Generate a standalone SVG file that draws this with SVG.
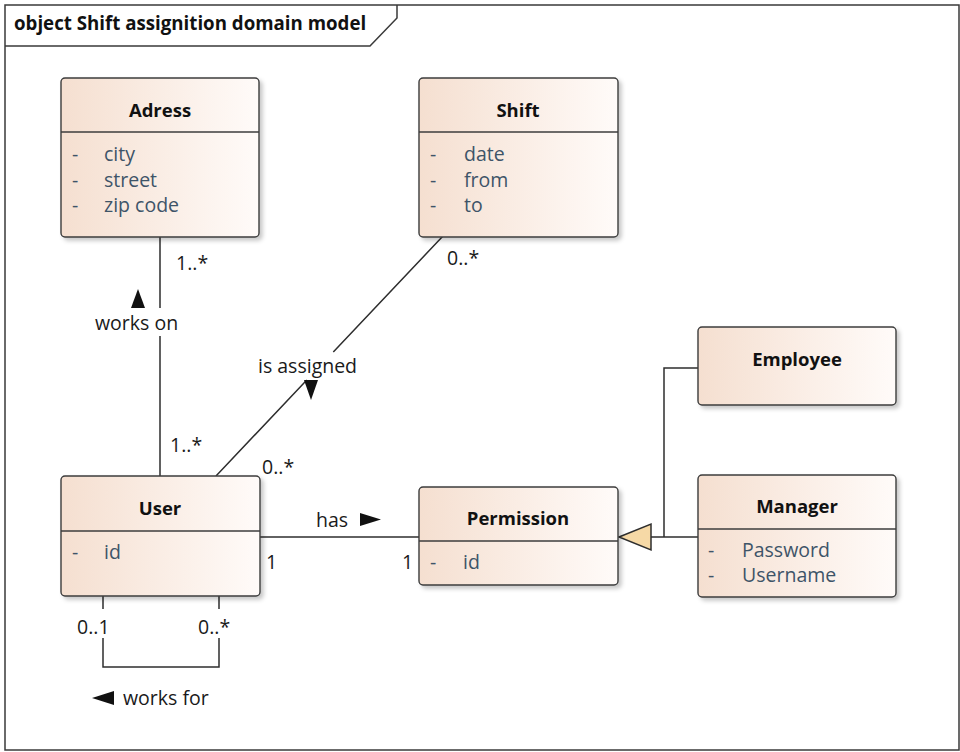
<svg xmlns="http://www.w3.org/2000/svg" width="960" height="752" viewBox="0 0 960 752">
  <style>
    .frame { fill: none; stroke: #3a3a3a; stroke-width: 1.5; }
    .box { fill: url(#nodeFill); stroke: #3c3c3c; stroke-width: 1.4; filter: url(#shadow); }
    .div { stroke: #3c3c3c; stroke-width: 1.4; }
    .title { font-family: "Open Sans", "Noto Sans", sans-serif; font-weight: bold; font-size: 18.5px; fill: #111; text-anchor: middle; }
    .attr { font-family: "Open Sans", "Noto Sans", sans-serif; font-size: 19.5px; fill: #3e5468; }
    .lbl { font-family: "Open Sans", "Noto Sans", sans-serif; font-size: 19.5px; fill: #1a1a1a; }
    .hdr { font-family: "Open Sans", "Noto Sans", sans-serif; font-weight: bold; font-size: 18.7px; fill: #111; }
    .conn { fill: none; stroke: #2e2e2e; stroke-width: 1.5; }
    .dir { fill: #111; }
  </style>
  <defs>
    <linearGradient id="nodeFill" x1="0" y1="0" x2="1" y2="0">
      <stop offset="0" stop-color="#f5dfd0"/>
      <stop offset="1" stop-color="#fffbf9"/>
    </linearGradient>
    <filter id="shadow" x="-10%" y="-10%" width="130%" height="130%">
      <feDropShadow dx="3" dy="3" stdDeviation="2" flood-color="#000" flood-opacity="0.22"/>
    </filter>
  </defs>

  <rect width="960" height="752" fill="#fff"/>

  <!-- diagram frame with name tab -->
  <g id="frame">
    <rect class="frame" x="5" y="5" width="954" height="745"/>
    <path class="frame" d="M5,46 H370 L397,18 V5"/>
    <text class="hdr" x="14" y="30">object Shift assignition domain model</text>
  </g>

  <!-- associations and generalization -->
  <g id="connectors">
    <!-- User - Adress : works on -->
    <path class="conn" d="M160,237 V308 M160,336 V476"/>
    <polygon class="dir" points="138,289 131,308 145,308"/>
    <text class="lbl" x="95" y="330">works on</text>
    <text class="lbl" x="176" y="270">1..*</text>
    <text class="lbl" x="170" y="452">1..*</text>

    <!-- User - Shift : is assigned -->
    <path class="conn" d="M216,476 L306.8,380 M333.3,352 L443,236"/>
    <polygon class="dir" points="304,380 318,380 311,400"/>
    <text class="lbl" x="258" y="373">is assigned</text>
    <text class="lbl" x="447" y="265">0..*</text>
    <text class="lbl" x="262" y="474">0..*</text>

    <!-- User - Permission : has -->
    <path class="conn" d="M260,537 H419"/>
    <polygon class="dir" points="360,513 381,519.5 360,526"/>
    <text class="lbl" x="316" y="527">has</text>
    <text class="lbl" x="266" y="569">1</text>
    <text class="lbl" x="402" y="569">1</text>

    <!-- User self association : works for -->
    <path class="conn" d="M103,596 V609 M103,638 V667 H219 V638 M219,609 V596"/>
    <text class="lbl" x="77" y="634">0..1</text>
    <text class="lbl" x="198" y="634">0..*</text>
    <polygon class="dir" points="92,698 114,691 114,705"/>
    <text class="lbl" x="123" y="705">works for</text>

    <!-- Employee, Manager generalize Permission -->
    <path class="conn" d="M698,368 H664 V537 M698,537 H651"/>
    <polygon points="619,537 651,524 651,550" fill="#f6d9a6" stroke="#2e2e2e" stroke-width="1.5"/>
  </g>

  <g id="adress">
    <rect class="box" x="61" y="78" width="198" height="159" rx="4"/>
    <line class="div" x1="61" y1="132" x2="259" y2="132"/>
    <text class="title" x="160" y="117">Adress</text>
    <text class="attr" x="72" y="161">-</text><text class="attr" x="104" y="161">city</text>
    <text class="attr" x="72" y="187">-</text><text class="attr" x="104" y="187">street</text>
    <text class="attr" x="72" y="212">-</text><text class="attr" x="104" y="212">zip code</text>
  </g>

  <g id="shift">
    <rect class="box" x="419" y="78" width="199" height="159" rx="4"/>
    <line class="div" x1="419" y1="132" x2="618" y2="132"/>
    <text class="title" x="518" y="117">Shift</text>
    <text class="attr" x="430" y="161">-</text><text class="attr" x="464" y="161">date</text>
    <text class="attr" x="430" y="187">-</text><text class="attr" x="464" y="187">from</text>
    <text class="attr" x="430" y="212">-</text><text class="attr" x="464" y="212">to</text>
  </g>

  <g id="employee">
    <rect class="box" x="698" y="327" width="198" height="78" rx="4"/>
    <text class="title" x="797" y="366">Employee</text>
  </g>

  <g id="user">
    <rect class="box" x="61" y="476" width="199" height="120" rx="4"/>
    <line class="div" x1="61" y1="531" x2="260" y2="531"/>
    <text class="title" x="160" y="515">User</text>
    <text class="attr" x="72" y="559">-</text><text class="attr" x="104" y="559">id</text>
  </g>

  <g id="permission">
    <rect class="box" x="419" y="487" width="199" height="98" rx="4"/>
    <line class="div" x1="419" y1="541" x2="618" y2="541"/>
    <text class="title" x="518" y="525">Permission</text>
    <text class="attr" x="430" y="569">-</text><text class="attr" x="463" y="569">id</text>
  </g>

  <g id="manager">
    <rect class="box" x="698" y="475" width="198" height="122" rx="4"/>
    <line class="div" x1="698" y1="529" x2="896" y2="529"/>
    <text class="title" x="797" y="513">Manager</text>
    <text class="attr" x="708" y="557">-</text><text class="attr" x="742" y="557">Password</text>
    <text class="attr" x="708" y="582">-</text><text class="attr" x="742" y="582">Username</text>
  </g>
</svg>
